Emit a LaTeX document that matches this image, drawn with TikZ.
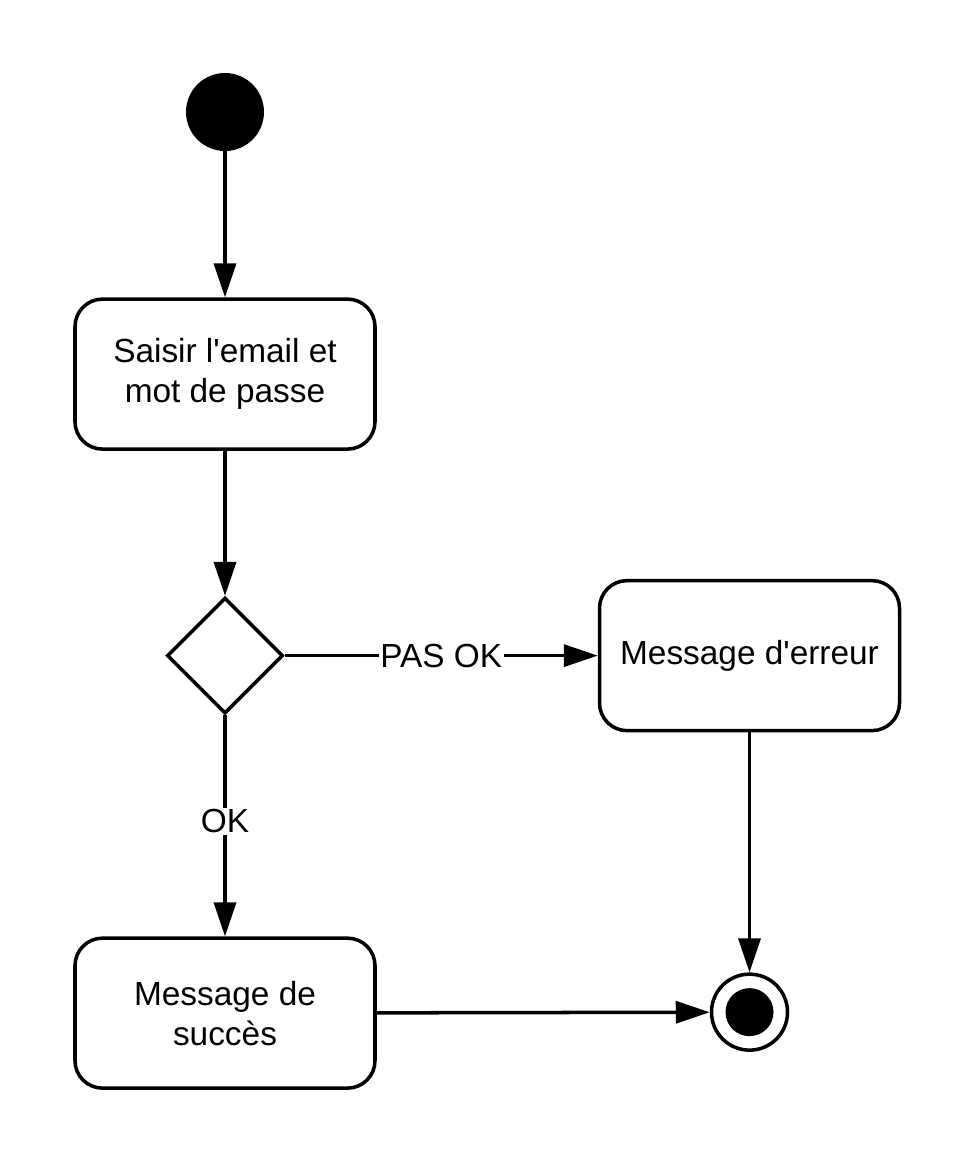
\documentclass[tikz,border=0pt]{standalone}
\usepackage{fontspec}
\setmainfont{Liberation Sans}
\usetikzlibrary{positioning, shapes.geometric, arrows.meta}
\tikzstyle{initial}=[circle, fill=black, minimum size=1.56cm, inner sep=0pt]
\tikzstyle{final}=[circle, draw=black, line width=2pt, minimum size=1.52cm, inner sep=0pt,
    path picture={\fill[black] (path picture bounding box.center) circle (0.48cm);}]
\tikzstyle{activity}=[rectangle, rounded corners=0.55cm, draw=black, line width=2pt,
    minimum width=6cm, minimum height=3cm, align=center, font=\fontsize{19}{22.8}\selectfont]
\tikzstyle{decision}=[diamond, draw=black, line width=2pt, aspect=1, minimum size=2.32cm, inner sep=0pt]
\tikzstyle{flow}=[line width=2pt, -{Triangle[length=0.68cm, width=0.44cm]}]
\tikzstyle{guard}=[fill=white, inner sep=1pt, font=\fontsize{19}{22.8}\selectfont]

\begin{document}
\begin{tikzpicture}
            \useasboundingbox (-4.5,2.24) rectangle (15.0,-21.02);
            %Login activity diagram
            \node[initial](start) at (0,0){};
            \node[activity, below = 2.92cm of start](saisir){Saisir l\textquotesingle email et\\mot de passe};
            \node[decision, below = 2.90cm of saisir](choix){};
            \node[activity, right = 6.26cm of choix](erreur){Message d\textquotesingle erreur};
            \node[activity, below = 4.42cm of choix](succes){Message de\\succès};
            \node[final, below = 4.80cm of erreur](fin){};
            % flows
            \draw[flow] (start) -- (saisir);
            \draw[flow] (saisir) -- (choix);
            \draw[flow] (choix) -- node[guard]{PAS OK} (erreur);
            \draw[flow] (choix) -- node[guard, pos=0.48]{OK} (succes);
            \draw[flow] (succes) -- (fin);
            \draw[flow] (erreur) -- (fin);
\end{tikzpicture}
\end{document}
